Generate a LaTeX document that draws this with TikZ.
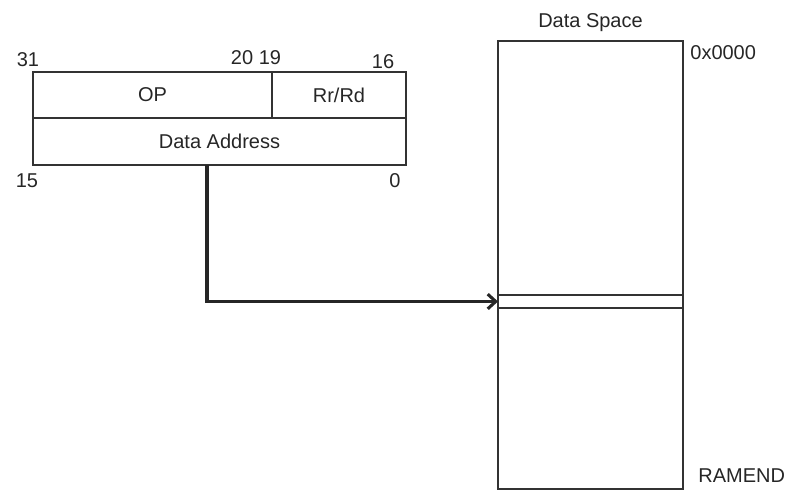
\documentclass[tikz,border=0pt]{standalone}
\usepackage{fontspec}
\setmainfont{Liberation Sans}
\usetikzlibrary{arrows.meta,positioning}

\begin{document}
\begin{tikzpicture}[x=0.75pt,y=-0.75pt, every node/.style={font=\fontsize{15}{18}\selectfont,text=black!85},
  cell/.style={draw=black!80,line width=1.6pt,minimum height=34.5pt,inner sep=0pt,outer sep=0pt},
  mem/.style={draw=black!80,line width=1.6pt,minimum width=138.75pt,inner sep=0pt,outer sep=0pt},
  arr/.style={-{Straight Barb[length=6pt,width=11pt]},line width=2.3pt,black!85}]
\useasboundingbox (0,0) rectangle (803,490);
% instruction word
\node[cell,minimum width=179.25pt,anchor=north west] (op) at (33,72) {OP};
\node[cell,minimum width=100.5pt,right=0pt of op] (rrrd) {Rr/Rd};
\node[cell,minimum width=279.75pt,minimum height=35.25pt,anchor=north west] (addr) at (op.south west) {Data Address};
% bit numbers
\node (b31) at (28,60) {31};
\node (b2019) at (256,58) {20 19};
\node (b16) at (383,62) {16};
\node (b15) at (27,181) {15};
\node (b0) at (395,181) {0};
% data space
\node[mem,minimum height=336pt,anchor=north west] (ram) at (498,41) {};
\node[mem,line width=1.1pt,minimum height=9.75pt,anchor=north west] (slot) at (498,295) {};
\node[above=3.5pt of ram] (title) {Data Space};
\node[anchor=north west] (top) at ([xshift=2pt,yshift=0.5pt]ram.north east) {0x0000};
\node[anchor=south west] (end) at ([xshift=8pt,yshift=1pt]ram.south east) {RAMEND};
\draw[arr] ([xshift=-9.4pt]addr.south) |- (slot.west);
\end{tikzpicture}
\end{document}
